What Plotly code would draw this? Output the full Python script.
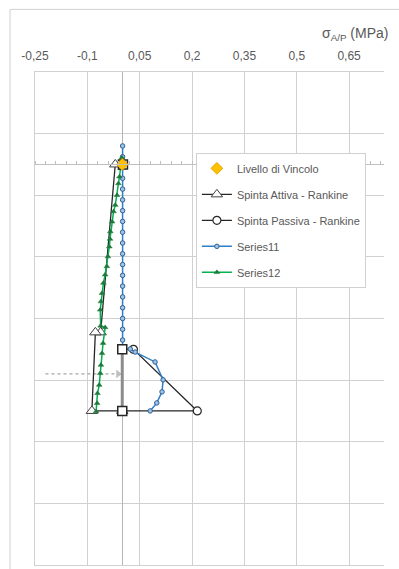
import plotly.graph_objects as go

# ---------------- data ----------------
x_tickvals = [-0.25, -0.1, 0.05, 0.2, 0.35, 0.5, 0.65]
x_ticktext = ["-0,25", "-0,1", "0,05", "0,2", "0,35", "0,5", "0,65"]

vincolo_x = [0.0]
vincolo_y = [0.0]

attiva_x = [-0.02, -0.062, -0.077, -0.087, 0.0]
attiva_y = [0.0, -5.45, -5.45, -8.0, -8.0]

passiva_x = [0.0, 0.032, 0.215, 0.0]
passiva_y = [-6.0, -6.0, -8.0, -8.0]

s11_x = [0.001, 0.001, 0.001, 0.001, 0.001, 0.001, 0.001, 0.001, 0.001, 0.001,
         0.001, 0.001, 0.001, 0.001, 0.001, 0.001, 0.001, 0.001, 0.001, 0.001,
         0.023, 0.037, 0.094, 0.117, 0.114, 0.099, 0.08]
s11_y = [0.6, 0.25, -0.1, -0.45, -0.8, -1.15, -1.5, -1.85, -2.2, -2.55,
         -2.9, -3.25, -3.6, -3.95, -4.3, -4.65, -5.0, -5.35, -5.7, -6.0,
         -5.99, -6.09, -6.41, -6.99, -7.38, -7.74, -8.0]

s12_x = [-0.001, -0.004, -0.008, -0.011, -0.015, -0.020, -0.025, -0.029, -0.034, -0.035,
         -0.037, -0.041, -0.044, -0.049, -0.054, -0.058, -0.061, -0.063, -0.062, -0.049,
         -0.055, -0.058, -0.061, -0.063, -0.066, -0.071, -0.072, -0.075]
s12_y = [0.22, -0.13, -0.40, -0.62, -1.0, -1.32, -1.53, -1.86, -2.18, -2.42,
         -2.67, -2.99, -3.31, -3.58, -3.85, -4.18, -4.45, -4.72, -5.24, -5.29,
         -5.80, -6.13, -6.51, -6.78, -7.16, -7.43, -7.75, -8.02]

muro_x = [0.0, 0.0]
muro_y = [-6.0, -8.0]
muro_sq_x = [0.002, 0.0, 0.0]
muro_sq_y = [0.0, -6.0, -8.0]

freccia_x = [-0.22, -0.012]
freccia_y = [-6.8, -6.8]

# ---------------- figure ----------------
FONT = "Liberation Sans, Arial, sans-serif"
TXT = "#595959"
GRID = "#d0d0d0"

fig = go.Figure()

fig.add_trace(go.Scatter(x=freccia_x, y=freccia_y, mode="lines+markers",
                         line=dict(color="#a6a6a6", width=1.2, dash="dot"),
                         marker=dict(symbol="triangle-right", size=[0, 9], color="#a6a6a6"),
                         showlegend=False, hoverinfo="skip"))

fig.add_trace(go.Scatter(x=muro_x, y=muro_y, mode="lines",
                         line=dict(color="#8c8c8c", width=3),
                         showlegend=False, hoverinfo="skip"))

fig.add_trace(go.Scatter(x=attiva_x, y=attiva_y, mode="lines+markers",
                         name="Spinta Attiva - Rankine", legendgroup="b", legendrank=2,
                         line=dict(color="#262626", width=1.3),
                         marker=dict(symbol="triangle-up", size=10, color="white",
                                     line=dict(color="#404040", width=1))))

fig.add_trace(go.Scatter(x=passiva_x, y=passiva_y, mode="lines+markers",
                         name="Spinta Passiva - Rankine", legendgroup="c", legendrank=3,
                         line=dict(color="#262626", width=1.3),
                         marker=dict(symbol="circle", size=8, color="white",
                                     line=dict(color="#262626", width=1.2))))

fig.add_trace(go.Scatter(x=s11_x, y=s11_y, mode="lines+markers",
                         name="Series11", legendgroup="d", legendrank=4,
                         line=dict(color="#2E7EC8", width=1.5),
                         marker=dict(symbol="circle", size=4.5, color="#9dc3e6",
                                     line=dict(color="#2F5F96", width=1))))

fig.add_trace(go.Scatter(x=s12_x, y=s12_y, mode="lines+markers",
                         name="Series12", legendgroup="e", legendrank=5,
                         line=dict(color="#00B050", width=1.5),
                         marker=dict(symbol="triangle-up", size=5, color="#1e7a3c",
                                     line=dict(color="#1e7a3c", width=0.5))))

fig.add_trace(go.Scatter(x=muro_sq_x, y=muro_sq_y, mode="markers",
                         marker=dict(symbol="square", size=9, color="white",
                                     line=dict(color="#262626", width=1.5)),
                         showlegend=False, hoverinfo="skip"))

fig.add_trace(go.Scatter(x=vincolo_x, y=vincolo_y, mode="markers",
                         name="Livello di Vincolo", legendgroup="a", legendrank=1,
                         marker=dict(symbol="diamond", size=9, color="#FFC000",
                                     line=dict(color="#E6A800", width=1))))

# dummy trace for the secondary axis line at y=0
fig.add_trace(go.Scatter(x=[None], y=[None], xaxis="x2", yaxis="y",
                         showlegend=False, hoverinfo="skip"))

fig.update_layout(
    width=399, height=569,
    margin=dict(l=35, r=15, t=72, b=4),
    paper_bgcolor="white", plot_bgcolor="white",
    font=dict(family=FONT, color=TXT, size=11),
    xaxis=dict(range=[-0.25, 0.75], side="top", tickvals=x_tickvals, ticktext=x_ticktext,
               showgrid=True, gridcolor=GRID, gridwidth=1.2,
               zeroline=True, zerolinecolor="#b5b5b5", zerolinewidth=1.3,
               showline=True, linecolor=GRID, linewidth=1.2, mirror=True,
               ticks="", ticklabelstandoff=6, automargin=False,
               tickfont=dict(size=12, color=TXT, family=FONT)),
    xaxis2=dict(range=[-0.25, 0.75], overlaying="x", anchor="free", position=0.8125,
                side="top", showgrid=False, zeroline=False, showline=True,
                linecolor="#bfbfbf", linewidth=1, ticks="outside", ticklen=3,
                tickcolor="#bfbfbf", tick0=-0.25, dtick=0.03, showticklabels=False,
                automargin=False),
    yaxis=dict(range=[-13, 3], tick0=3, dtick=2, showticklabels=False,
               showgrid=True, gridcolor=GRID, gridwidth=1.2, zeroline=False,
               showline=True, linecolor=GRID, linewidth=1.2, mirror=False,
               ticks="", automargin=False),
    legend=dict(x=0.461, y=0.836, xanchor="left", yanchor="top",
                bordercolor=GRID, borderwidth=1, bgcolor="white",
                font=dict(size=11, color=TXT, family=FONT),
                itemwidth=30, tracegroupgap=7, traceorder="grouped"),
    showlegend=True,
    annotations=[dict(text="σ<sub>A/P</sub> (MPa)", xref="paper", yref="paper",
                      x=0.818, y=1.078, xanchor="left", yanchor="middle",
                      showarrow=False, font=dict(size=14, color=TXT, family=FONT))],
    shapes=[
        dict(type="line", xref="paper", yref="paper", x0=-0.0716, x1=-0.0716,
             y0=-0.1, y1=1.127, line=dict(color=GRID, width=1)),
        dict(type="line", xref="paper", yref="paper", x0=-0.0716, x1=1.2,
             y0=1.127, y1=1.127, line=dict(color=GRID, width=1)),
    ],
)

fig.write_html("out.html", config={"displayModeBar": False},
               post_script="document.body.style.margin='0px';document.body.style.overflow='hidden';")
